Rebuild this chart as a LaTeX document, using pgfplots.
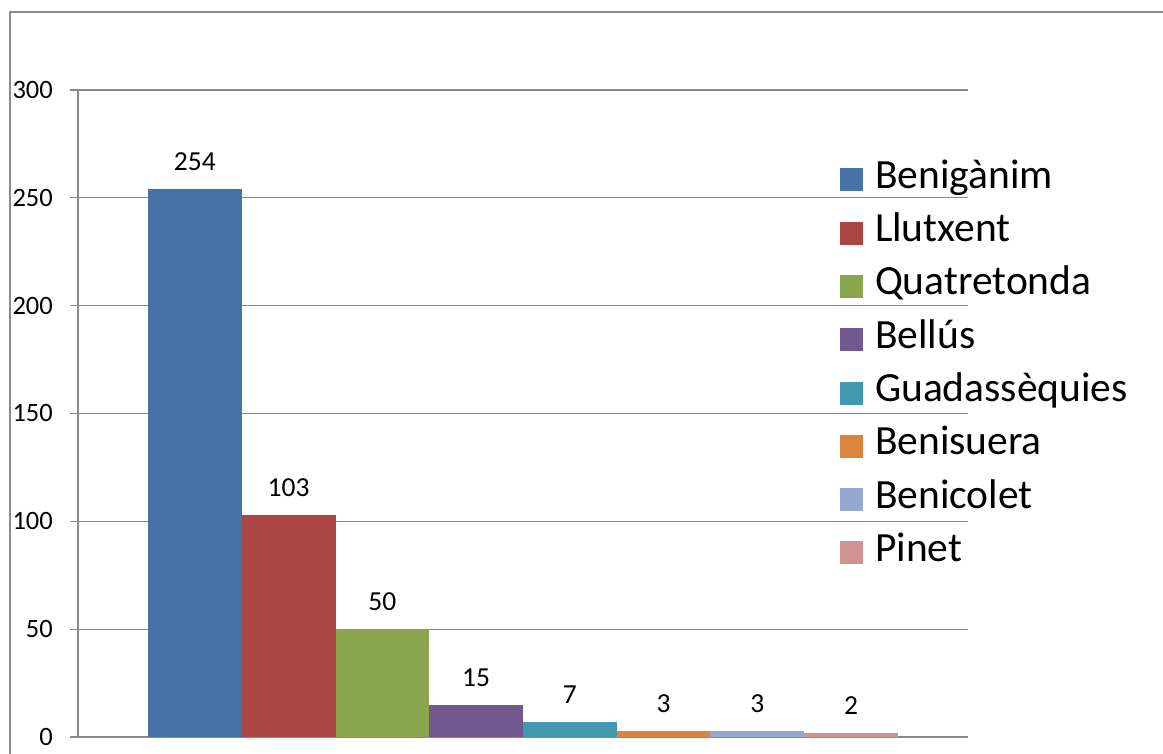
\documentclass[border=0pt]{standalone}
\usepackage{pgfplots}
\pgfplotsset{compat=1.18}
\usepackage{fontspec}
\setmainfont{Carlito}

\definecolor{cBenig}{HTML}{4572A7}
\definecolor{cLlut}{HTML}{AA4643}
\definecolor{cQuat}{HTML}{89A54E}
\definecolor{cBell}{HTML}{71588F}
\definecolor{cGuad}{HTML}{4198AF}
\definecolor{cBenis}{HTML}{DB843D}
\definecolor{cBenic}{HTML}{93A9CF}
\definecolor{cPin}{HTML}{D19392}
\definecolor{gridgray}{HTML}{8A8A8A}
\definecolor{framegray}{HTML}{8C8C8C}

\pgfplotsset{
  sq legend/.style={legend image code/.code={\fill[##1] (0pt,-11.5pt) rectangle (23pt,11.5pt);}},
}

\begin{document}
\begin{tikzpicture}[x=1pt,y=1pt]
\useasboundingbox (0,0) rectangle (1163,754);
% outer chart frame
\draw[framegray, line width=2pt] (9.5,-20) -- (9.5,742) -- (1200,742);

\begin{axis}[
  at={(78pt,17pt)}, anchor=south west,
  scale only axis, width=890pt, height=647pt,
  ybar, 
  xmin=-1.247, xmax=8.247,
  ymin=0, ymax=300,
  ytick={0,50,...,300},
  xtick=\empty,
  axis x line*=bottom, axis y line*=left,
  axis line style={gridgray, line width=1.2pt},
  ymajorgrids,
  major grid style={gridgray, line width=1.2pt},
  tick align=outside,
  major tick length=8pt,
  ytick style={gridgray, line width=1.2pt},
  /pgf/number format/assume math mode=true,
  yticklabel style={font=\fontsize{26.5}{30}\selectfont, anchor=east, inner sep=0pt, xshift=-17pt},
  bar width=93.75pt,
  nodes near coords,
  every node near coord/.append style={font=\fontsize{27.5}{30}\selectfont, anchor=south, inner sep=0pt, yshift=18pt, black},
  legend cell align=left,
  legend style={
    at={(0.856,0.887)}, anchor=north west,
    draw=none, fill=none, inner sep=0pt,
    font=\fontsize{41.5}{44}\selectfont,
    nodes={inner sep=0pt, text height=25pt, text depth=8pt},
    row sep=20.3pt,
    /tikz/every odd column/.append style={column sep=12pt},
  },
]
\addplot[fill=cBenig, draw=none, bar shift=0pt, sq legend] coordinates {(0,254)};
\addplot[fill=cLlut, draw=none, bar shift=0pt, sq legend] coordinates {(1,103)};
\addplot[fill=cQuat, draw=none, bar shift=0pt, sq legend] coordinates {(2,50)};
\addplot[fill=cBell, draw=none, bar shift=0pt, sq legend] coordinates {(3,15)};
\addplot[fill=cGuad, draw=none, bar shift=0pt, sq legend] coordinates {(4,7)};
\addplot[fill=cBenis, draw=none, bar shift=0pt, sq legend] coordinates {(5,3)};
\addplot[fill=cBenic, draw=none, bar shift=0pt, sq legend] coordinates {(6,3)};
\addplot[fill=cPin, draw=none, bar shift=0pt, sq legend] coordinates {(7,2)};
\legend{Benigànim, Llutxent, Quatretonda, Bellús, Guadassèquies, Benisuera, Benicolet, Pinet}
\end{axis}
\end{tikzpicture}
\end{document}
